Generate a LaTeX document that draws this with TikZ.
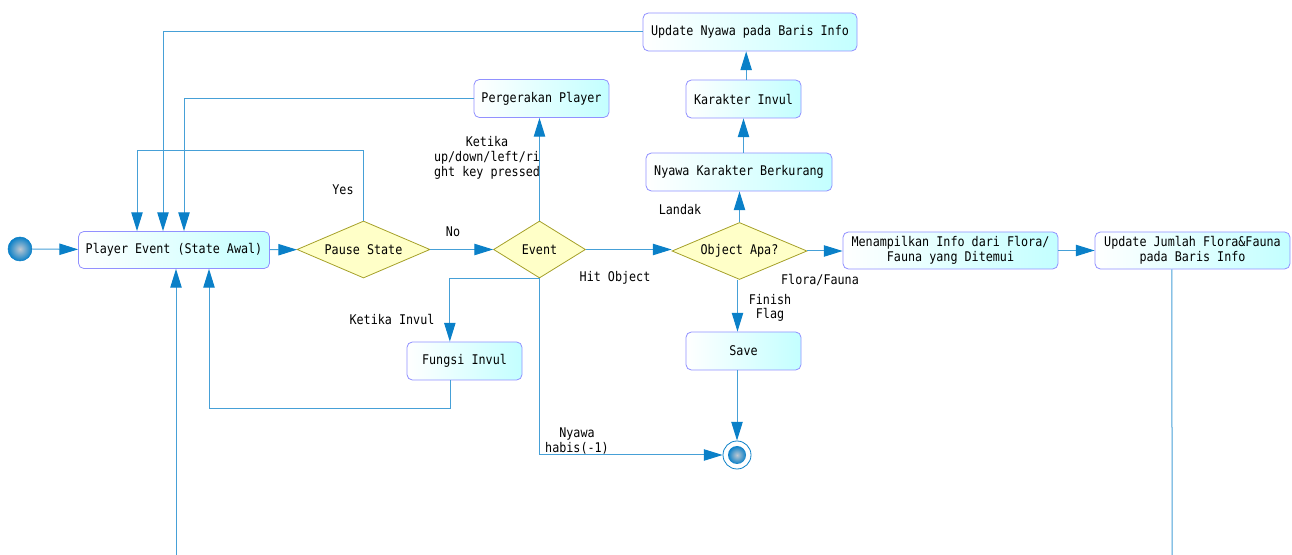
\documentclass[tikz,border=0pt]{standalone}
\usepackage{fontspec}
\setmainfont[FakeStretch=0.88]{DejaVu Sans Mono}
\usetikzlibrary{arrows.meta,shapes.geometric,calc}
\definecolor{lineblue}{RGB}{70,160,215}
\definecolor{tipblue}{RGB}{10,128,200}
\definecolor{boxborder}{RGB}{145,145,255}
\definecolor{boxfill}{RGB}{195,255,255}
\definecolor{diafill}{RGB}{255,255,200}
\definecolor{diaborder}{RGB}{165,160,40}
\definecolor{balllight}{RGB}{190,200,210}
\begin{document}
\begin{tikzpicture}[x=0.75pt,y=-0.75pt,
  font=\fontsize{10}{11}\selectfont,
  sz/.style 2 args={minimum width=#1*0.75pt, minimum height=#2*0.75pt},
  actbox/.style={draw=boxborder, rounded corners=4pt, left color=white, right color=boxfill, inner sep=0pt, align=center, line width=0.6pt},
  dia/.style={diamond, draw=diaborder, fill=diafill, inner sep=0pt, shape aspect=2.3, line width=0.6pt},
  flow/.style={draw=lineblue, line width=0.75pt, -{Triangle[length=14pt,width=8.5pt,fill=tipblue,color=tipblue]}},
  plainline/.style={draw=lineblue, line width=0.75pt},
  lbl/.style={inner sep=0pt, align=center, font=\fontsize{10}{11}\selectfont}]
\useasboundingbox (0,0) rectangle (1292,555);

% nodes
\node[circle, sz={24}{24}, inner sep=0pt, draw=tipblue, inner color=balllight, outer color=tipblue] (start) at (20,249) {};
\node[actbox, sz={191}{37}] (pe) at (174,250) {Player Event (State Awal)};
\node[dia, sz={133}{57}] (pause) at (363.5,249.5) {Pause State};
\node[dia, sz={92}{57}] (event) at (539.5,249.5) {Event};
\node[dia, sz={135}{57}] (obj) at (739.5,251) {Object Apa?};
\node[actbox, sz={215}{37}] (menam) at (950.5,250.5) {Menampilkan Info dari Flora/\\Fauna yang Ditemui};
\node[actbox, sz={195}{37}] (updj) at (1192.5,250.5) {Update Jumlah Flora\&Fauna\\pada Baris Info};
\node[actbox, sz={214}{38}] (updn) at (750,32) {Update Nyawa pada Baris Info};
\node[actbox, sz={115}{38}] (kar) at (743.5,99) {Karakter Invul};
\node[actbox, sz={186}{38}] (nk) at (739,172) {Nyawa Karakter Berkurang};
\node[actbox, sz={135}{38}] (perg) at (541.5,98.5) {Pergerakan Player};
\node[actbox, sz={115}{38}] (fung) at (464.5,361) {Fungsi Invul};
\node[actbox, sz={115}{38}] (save) at (743.5,351) {Save};
\node[circle, sz={28}{28}, inner sep=0pt, draw=tipblue, fill=white, line width=0.6pt] (end) at (737,455) {};
\node[circle, sz={18}{18}, inner sep=0pt, inner color=balllight, outer color=tipblue] (endin) at (end.center) {};

\coordinate (bL) at (176,555);
\coordinate (bR) at (1172,555);

% connectors
\draw[flow] (start) -- (pe);
\draw[flow] (pe) -- (pause);
\draw[flow] (pause.north) -- ++(0,-70) -| ([xshift=-27.75pt]pe.north);
\draw[flow] (pause.east) -- (event.west);
\draw[flow] (perg.west) -| ([xshift=7.5pt]pe.north);
\draw[flow] (updn.west) -| ([xshift=-8.25pt]pe.north);
\draw[flow] (event.north) -- (event.north |- perg.south);
\draw[flow] (event.east) -- (event.east -| obj.west);
\draw[flow] (event.south) |- (end.west);
\draw[flow] (event.south) -| ([xshift=-11pt]fung.north);
\draw[flow] ([xshift=-10.5pt]fung.south) -- ++(0,28) -| ([xshift=26.25pt]pe.south);
\draw[flow] (obj.north) -- (obj.north |- nk.south);
\draw[flow] (kar.south |- nk.north) -- (kar.south);
\draw[flow] ([xshift=2pt]kar.north) -- ([xshift=2pt]kar.north |- updn.south);
\draw[flow] (obj.east) -- (obj.east -| menam.west);
\draw[flow] ([xshift=-1.5pt]obj.south) -- ([xshift=-1.5pt]obj.south |- save.north);
\draw[flow] (end.north |- save.south) -- (end.north);
\draw[flow] (menam) -- (updj);
\draw[plainline] ([xshift=-15.4pt]updj.south) -- (bR);
\draw[flow] (bL) -- (bL |- pe.south);

% labels
\node[lbl] (lyes) at (343,190) {Yes};
\node[lbl] (lno) at (453,232) {No};
\node[lbl] (lket) at (487,158) {Ketika\\up/down/left/ri\\ght key pressed};
\node[lbl] (lhit) at (615,278) {Hit Object};
\node[lbl] (linv) at (392,319) {Ketika Invul};
\node[lbl] (lnya) at (577,441) {Nyawa\\habis(-1)};
\node[lbl] (llan) at (680,210) {Landak};
\node[lbl] (lflo) at (820,280) {Flora/Fauna};
\node[lbl] (lfin) at (770,308) {Finish\\Flag};
\end{tikzpicture}
\end{document}
